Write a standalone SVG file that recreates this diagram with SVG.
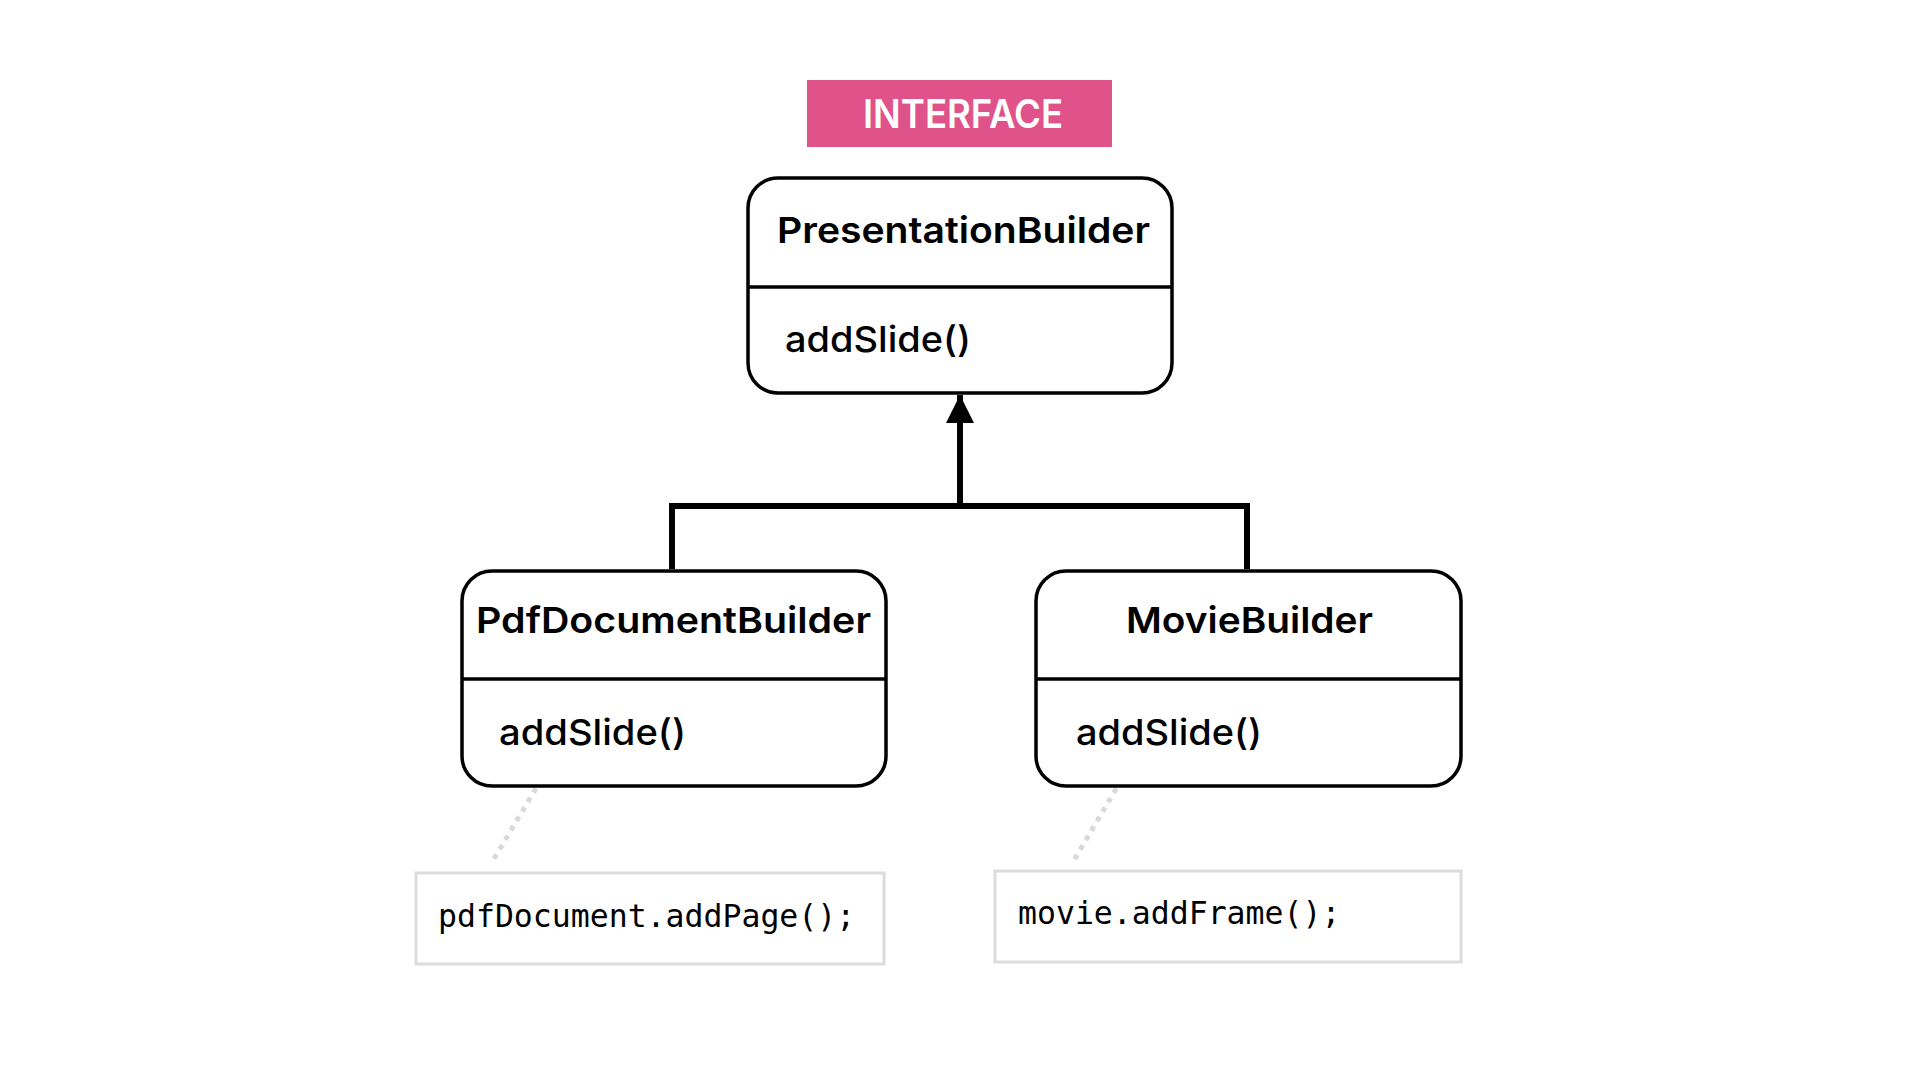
<svg xmlns="http://www.w3.org/2000/svg" width="1920" height="1080" viewBox="0 0 1920 1080">
<defs>
<style>
.box{fill:#fff;stroke:#000;stroke-width:3.5}
.div{stroke:#000;stroke-width:3.5}
.title{font-family:Inter,"Open Sans",sans-serif;font-weight:600;font-size:36px;fill:#000}
.meth{font-family:Inter,"Open Sans",sans-serif;font-weight:500;font-size:36px;fill:#000}
.code{font-family:"DejaVu Sans Mono","Liberation Mono",monospace;font-size:31.5px;fill:#000}
.codebox{fill:#fff;stroke:#dcdcdc;stroke-width:3}
.note{stroke:#d9d9d9;stroke-width:5;stroke-dasharray:5 6;fill:none}
.conn{stroke:#000;stroke-width:6;fill:none}
</style>
<marker id="arrow" markerUnits="userSpaceOnUse" markerWidth="30" markerHeight="30" refX="28" refY="14" orient="auto">
<path d="M0,0 L28,14 L0,28 Z" fill="#000"/>
</marker>
</defs>
<rect width="1920" height="1080" fill="#fff"/>
<g id="interface-label">
<rect x="807" y="80" width="305" height="67" fill="#e0528a"/>
<text x="963" y="128" text-anchor="middle" font-family="Inter,'Open Sans',sans-serif" font-weight="600" font-size="40" fill="#fff" textLength="200" lengthAdjust="spacingAndGlyphs">INTERFACE</text>
</g>
<g id="connectors">
<path class="conn" d="M672 569 V506 H1247 V569"/>
<path class="conn" d="M960 506 V395" marker-end="url(#arrow)"/>
<path class="note" d="M553 760 L492 862"/>
<path class="note" d="M1133 760 L1073 862"/>
</g>
<g id="PresentationBuilder">
<rect class="box" x="748" y="178" width="424" height="215" rx="30"/>
<line class="div" x1="748" y1="287" x2="1172" y2="287"/>
<text class="title" x="777" y="243" textLength="373" lengthAdjust="spacingAndGlyphs">PresentationBuilder</text>
<text class="meth" x="785" y="352" textLength="186" lengthAdjust="spacingAndGlyphs">addSlide()</text>
</g>
<g id="PdfDocumentBuilder">
<rect class="box" x="462" y="571" width="424" height="215" rx="30"/>
<line class="div" x1="462" y1="679" x2="886" y2="679"/>
<text class="title" x="476" y="633" textLength="395" lengthAdjust="spacingAndGlyphs">PdfDocumentBuilder</text>
<text class="meth" x="499" y="745" textLength="187" lengthAdjust="spacingAndGlyphs">addSlide()</text>
</g>
<g id="MovieBuilder">
<rect class="box" x="1036" y="571" width="425" height="215" rx="30"/>
<line class="div" x1="1036" y1="679" x2="1461" y2="679"/>
<text class="title" x="1126" y="633" textLength="247" lengthAdjust="spacingAndGlyphs">MovieBuilder</text>
<text class="meth" x="1076" y="745" textLength="186" lengthAdjust="spacingAndGlyphs">addSlide()</text>
</g>
<g id="pdf-code">
<rect class="codebox" x="416" y="873" width="468" height="91"/>
<text class="code" x="438" y="927">pdfDocument.addPage();</text>
</g>
<g id="movie-code">
<rect class="codebox" x="995" y="871" width="466" height="91"/>
<text class="code" x="1018" y="924">movie.addFrame();</text>
</g>
</svg>
